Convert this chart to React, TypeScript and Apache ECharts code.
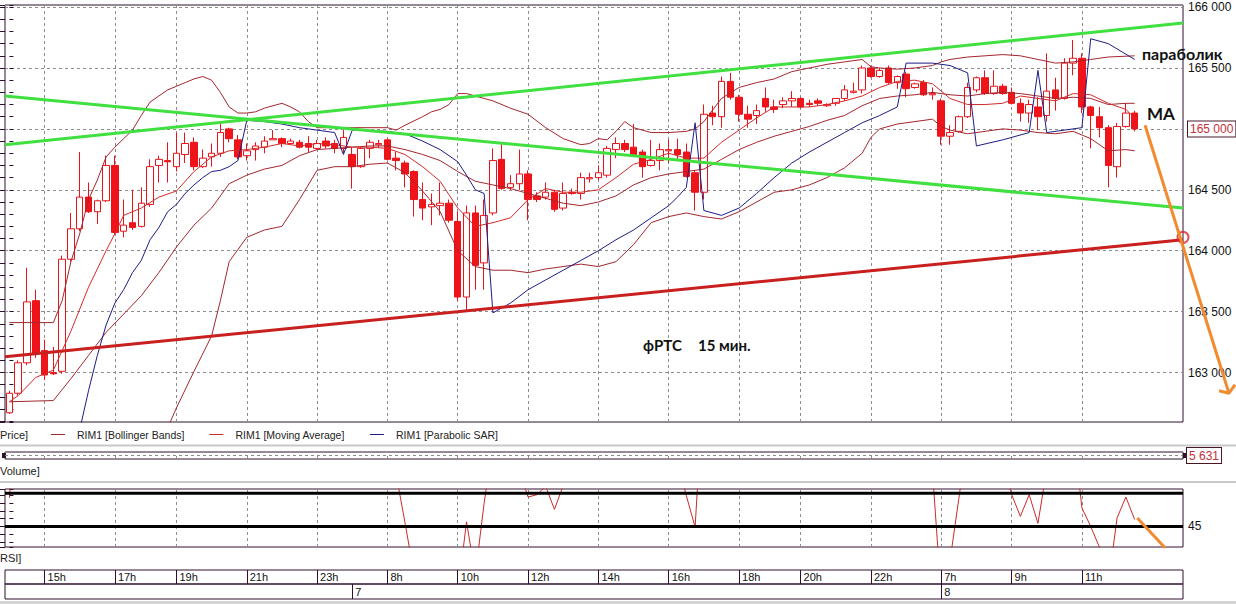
import { useEffect, useRef } from 'react';
import * as echarts from 'echarts';

const FONT = "'Liberation Sans', Arial, sans-serif";
const NOTE_FONT = "Lato, 'Open Sans', 'Noto Sans', sans-serif";
const AX = '#2e0f2e';
const GRIDC = '#8c8c8c';

// ---------- categories (15-minute candles) ----------
const sessions = [
  { day: '6', from: '14:00', to: '23:45' },
  { day: '7', from: '07:00', to: '23:45' },
  { day: '8', from: '07:00', to: '13:45' },
];
const skippedSlots = ['6 18:45', '7 18:45'];
function buildTimes(): string[] {
  const out: string[] = [];
  for (const s of sessions) {
    const [fh, fm] = s.from.split(':').map(Number);
    const [th, tm] = s.to.split(':').map(Number);
    for (let t = fh * 60 + fm; t <= th * 60 + tm; t += 15) {
      const key = `${s.day} ${String(Math.floor(t / 60)).padStart(2, '0')}:${String(t % 60).padStart(2, '0')}`;
      if (!skippedSlots.includes(key)) out.push(key);
    }
  }
  return out;
}
const times = buildTimes();

const gridTimes = ['6 15:00', '6 17:00', '6 19:00', '6 21:00', '6 23:00', '7 08:00', '7 10:00', '7 12:00', '7 14:00', '7 16:00', '7 18:00', '7 20:00', '7 22:00', '8 07:00', '8 09:00', '8 11:00'];
const dayStarts = ['7 07:00', '8 07:00'];

// ---------- candles ----------
const opens = [
  162670, 162830, 163080, 163590, 163180, 163000, 163010, 163930, 164180, 164440,
  164320, 164410, 164700, 164160, 164230, 164200, 164380, 164700, 164740, 164690,
  164790, 164890, 164690, 164770, 164800, 165000, 164910, 164780, 164830, 164850,
  164910, 164920, 164880, 164890, 164880, 164840, 164900, 164880, 164840, 164790,
  164690, 164840, 164870, 164910, 164760, 164720, 164650, 164420, 164360, 164370,
  164390, 164240, 163620, 164310, 163900, 164310, 164750, 164520, 164550, 164630,
  164450, 164440, 164480, 164350, 164480, 164470, 164590, 164600, 164620, 164830,
  164880, 164850, 164810, 164700, 164740, 164820, 164830, 164810, 164640, 164480,
  165130, 165100, 165390, 165260, 165120, 165110, 165250, 165180, 165200, 165230,
  165250, 165210, 165230, 165190, 165210, 165250, 165300, 165320, 165500, 165430,
  165500, 165380, 165450, 165340, 165380, 165280, 165230, 164940, 164980, 165100,
  165320, 165420, 165290, 165350, 165300, 165210, 165130, 165180, 165110, 165320,
  165250, 165540, 165580, 165180, 165100, 165010, 164690, 165020, 165130,
];
const closes = [
  162830, 163080, 163580, 163160, 162980, 162990, 163930, 164180, 164440, 164320,
  164410, 164700, 164150, 164210, 164190, 164390, 164690, 164750, 164730, 164800,
  164880, 164690, 164760, 164800, 164970, 164920, 164770, 164820, 164860, 164900,
  164920, 164880, 164900, 164850, 164850, 164880, 164860, 164840, 164930, 164690,
  164840, 164890, 164880, 164750, 164740, 164630, 164420, 164350, 164380, 164390,
  164250, 163620, 164310, 163880, 164290, 164740, 164510, 164550, 164630, 164420,
  164420, 164480, 164340, 164470, 164470, 164600, 164600, 164640, 164840, 164880,
  164830, 164790, 164690, 164740, 164830, 164830, 164790, 164610, 164480, 165120,
  165100, 165390, 165260, 165120, 165080, 165150, 165180, 165160, 165230, 165250,
  165180, 165200, 165210, 165200, 165250, 165320, 165310, 165500, 165430, 165480,
  165380, 165430, 165330, 165370, 165280, 165290, 164940, 164970, 165100, 165340,
  165420, 165290, 165350, 165290, 165210, 165130, 165200, 165100, 165310, 165250,
  165540, 165580, 165180, 165110, 165010, 164700, 165020, 165130, 165000,
];
const lows = [
  162660, 162810, 163060, 163120, 162940, 162980, 162990, 163910, 164160, 164310,
  164220, 164400, 164130, 164110, 164170, 164190, 164360, 164560, 164560, 164650,
  164720, 164660, 164680, 164690, 164770, 164890, 164750, 164740, 164740, 164800,
  164910, 164850, 164870, 164840, 164810, 164830, 164840, 164800, 164800, 164510,
  164680, 164760, 164850, 164740, 164660, 164520, 164280, 164250, 164210, 164290,
  164230, 163590, 163510, 163680, 163680, 164290, 164500, 164500, 164500, 164250,
  164400, 164420, 164320, 164330, 164460, 164420, 164560, 164580, 164600, 164760,
  164810, 164770, 164600, 164690, 164660, 164720, 164740, 164600, 164330, 164420,
  165030, 165010, 165240, 165060, 165010, 165040, 165140, 165130, 165170, 165180,
  165170, 165180, 165190, 165180, 165190, 165230, 165290, 165290, 165420, 165420,
  165370, 165330, 165260, 165330, 165270, 165240, 164870, 164870, 164970, 165090,
  165300, 165280, 165280, 165280, 165200, 165060, 165050, 164990, 165060, 165150,
  165240, 165440, 165130, 164840, 164930, 164520, 164600, 165010, 164980,
];
const highs = [
  162850, 163100, 163860, 163680, 163270, 163210, 163960, 164310, 164810, 164560,
  164420, 164780, 164780, 164420, 164500, 164520, 164750, 164780, 164890, 164970,
  164970, 164930, 164830, 164880, 165060, 165010, 164950, 164880, 164890, 164940,
  164990, 164930, 164920, 164910, 164940, 164910, 164930, 164910, 164990, 164850,
  164850, 164910, 164910, 164920, 164810, 164740, 164660, 164560, 164470, 164560,
  164420, 164320, 164370, 164370, 164420, 164840, 164880, 164620, 164830, 164660,
  164480, 164560, 164500, 164560, 164510, 164640, 164640, 164700, 164860, 164930,
  164910, 165040, 164830, 164910, 164880, 164910, 164920, 164880, 164660, 165200,
  165190, 165430, 165460, 165280, 165190, 165200, 165340, 165240, 165260, 165310,
  165260, 165240, 165250, 165210, 165250, 165360, 165380, 165520, 165520, 165500,
  165520, 165440, 165470, 165380, 165400, 165340, 165250, 165030, 165110, 165380,
  165430, 165480, 165480, 165370, 165340, 165250, 165240, 165260, 165620, 165420,
  165580, 165730, 165620, 165190, 165180, 165030, 165050, 165210, 165150,
];

// ---------- indicators: [candle index, price] ----------
const bbUpper = [[0, 163410], [5, 163410], [6, 163590], [7, 163910], [8, 164140], [9, 164420], [10, 164580], [11, 164770], [12, 164850], [13, 164920], [14, 164990], [15, 165110], [16, 165220], [17, 165270], [18, 165320], [19, 165350], [20, 165380], [21, 165410], [22, 165430], [23, 165400], [24, 165300], [25, 165180], [26, 165130], [27, 165130], [28, 165140], [29, 165170], [31, 165210], [32, 165180], [33, 165140], [34, 165060], [35, 165010], [43, 165010], [44, 164990], [45, 165030], [47, 165100], [48, 165140], [49, 165160], [50, 165200], [51, 165290], [52, 165290], [53, 165270], [55, 165230], [57, 165170], [59, 165120], [61, 165010], [63, 164920], [65, 164870], [66, 164880], [67, 164920], [68, 164910], [69, 164980], [70, 165060], [71, 165010], [73, 164970], [75, 164970], [77, 164980], [78, 165000], [79, 165060], [81, 165250], [83, 165340], [85, 165380], [87, 165410], [89, 165470], [91, 165500], [93, 165530], [95, 165550], [97, 165570], [98, 165510], [99, 165500], [101, 165490], [103, 165500], [105, 165520], [106, 165550], [107, 165570], [109, 165590], [111, 165600], [113, 165610], [115, 165600], [117, 165570], [119, 165540], [121, 165550], [123, 165570], [125, 165590], [128, 165600]];
const bbMid = [[0, 162760], [5, 162770], [7, 162950], [9, 163140], [11, 163330], [13, 163480], [15, 163630], [17, 163820], [19, 164030], [21, 164210], [23, 164350], [25, 164550], [27, 164620], [29, 164670], [31, 164700], [33, 164780], [35, 164830], [37, 164840], [39, 164850], [41, 164860], [43, 164860], [45, 164830], [47, 164790], [49, 164740], [51, 164650], [53, 164570], [55, 164540], [57, 164510], [59, 164470], [61, 164430], [63, 164390], [65, 164370], [67, 164400], [69, 164450], [71, 164540], [73, 164600], [75, 164630], [77, 164650], [79, 164670], [81, 164750], [83, 164830], [85, 164890], [87, 164940], [89, 164980], [91, 165020], [93, 165070], [95, 165110], [97, 165190], [99, 165250], [101, 165270], [103, 165280], [105, 165300], [107, 165280], [109, 165270], [111, 165290], [113, 165300], [115, 165290], [117, 165270], [119, 165250], [121, 165260], [123, 165250], [125, 165200], [127, 165210], [128, 165210]];
const bbLower = [[0, 162100], [5, 162130], [7, 162000], [9, 161870], [11, 161890], [13, 162030], [15, 162140], [17, 162380], [19, 162710], [21, 163010], [23, 163300], [24, 163590], [25, 163910], [27, 164110], [29, 164170], [31, 164200], [33, 164420], [35, 164660], [37, 164690], [39, 164690], [41, 164710], [43, 164720], [45, 164640], [47, 164490], [49, 164320], [51, 164000], [53, 163870], [55, 163840], [57, 163840], [59, 163820], [61, 163850], [63, 163870], [65, 163890], [67, 163870], [69, 163910], [71, 164050], [73, 164230], [75, 164280], [77, 164310], [79, 164280], [81, 164260], [83, 164320], [85, 164400], [87, 164480], [89, 164500], [91, 164540], [93, 164600], [95, 164680], [97, 164800], [98, 164930], [99, 165000], [101, 165040], [103, 165060], [105, 165080], [106, 165020], [107, 164990], [109, 164960], [111, 164980], [113, 165000], [115, 164990], [117, 164970], [119, 164960], [121, 164980], [123, 164920], [125, 164820], [127, 164830], [128, 164820]];
const movingAvg = [[0, 162760], [1, 162810], [3, 162960], [5, 163020], [7, 163340], [9, 163700], [11, 164000], [12, 164140], [13, 164290], [15, 164350], [17, 164440], [19, 164490], [21, 164650], [23, 164770], [25, 164820], [27, 164830], [29, 164850], [31, 164880], [33, 164860], [35, 164880], [37, 164870], [39, 164850], [41, 164850], [43, 164840], [45, 164790], [47, 164690], [49, 164570], [51, 164350], [53, 164200], [55, 164230], [57, 164270], [59, 164420], [61, 164510], [63, 164480], [65, 164480], [67, 164500], [69, 164600], [71, 164710], [73, 164750], [75, 164800], [77, 164760], [79, 164760], [81, 164890], [83, 164990], [85, 165090], [87, 165180], [89, 165180], [91, 165180], [93, 165200], [95, 165230], [97, 165270], [99, 165340], [101, 165390], [103, 165400], [105, 165370], [107, 165250], [109, 165200], [111, 165200], [113, 165210], [115, 165270], [117, 165250], [119, 165230], [121, 165290], [123, 165280], [125, 165210], [127, 165160], [128, 165090]];
const parabolicSar = [[8, 162530], [9, 162850], [10, 163140], [11, 163390], [12, 163570], [13, 163680], [14, 163820], [15, 163920], [16, 164090], [17, 164190], [18, 164320], [19, 164380], [20, 164470], [21, 164540], [22, 164600], [23, 164650], [24, 164660], [25, 164690], [26, 164740], [27, 165070], [29, 165060], [31, 165040], [33, 165010], [35, 164990], [37, 164970], [38, 164790], [39, 164990], [43, 164980], [45, 164960], [47, 164900], [49, 164830], [51, 164730], [52, 164620], [53, 164500], [54, 164470], [55, 163490], [57, 163570], [59, 163680], [61, 163760], [63, 163840], [65, 163920], [67, 164000], [69, 164090], [71, 164170], [73, 164270], [75, 164370], [76, 164440], [77, 164520], [78, 165050], [79, 164330], [81, 164290], [83, 164350], [85, 164470], [87, 164600], [89, 164720], [91, 164810], [93, 164890], [95, 164970], [97, 165050], [99, 165110], [101, 165180], [102, 165540], [105, 165540], [107, 165520], [109, 165460], [110, 164860], [113, 164910], [116, 164970], [117, 165480], [118, 164970], [122, 165010], [123, 165740], [125, 165700], [128, 165570]];

const rsi = [
  48.7, 62, 70, 62, 58, 58, 68, 71, 74, 70,
  71, 75, 64, 65, 64, 67, 71, 71, 70, 72,
  73, 67, 68, 69, 72, 69, 64, 65, 66, 67,
  68, 66, 67, 65, 65, 66, 65, 64, 67, 58,
  62, 63, 63, 56, 51.7, 45.5, 39, 37, 38, 38.5,
  35, 36.3, 45.6, 38.7, 48, 55.7, 52, 52.5, 52.3, 48.8,
  49.1, 50.2, 47.2, 50.3, 50.5, 52, 52.5, 53, 57, 58,
  56, 55, 52, 53, 55, 55, 53.2, 49, 44.9, 64,
  63, 68, 64, 60, 59, 60, 60.5, 60, 61, 61.5,
  59.5, 60, 60.5, 60, 61, 63, 63, 67, 64, 65,
  61, 62, 59, 60, 57, 52.2, 35.8, 40.6, 48.6, 56.7,
  59, 55, 57, 54, 49.15, 46.3, 49.1, 45.4, 52.4, 51,
  58, 57.8, 47.4, 45.0, 42.3, 37.5, 46.1, 48.8, 45.9,
];
const rsiLevels = [45, 49.3];
const lastVolume = 5631;

// ---------- hand-drawn annotations: [x index, price] ----------
const greenFalling = [[-0.5, 165270], [133.5, 164350]];
const greenRising = [[-0.5, 164870], [133.5, 165870]];
const redSupport = [[-0.5, 163130], [133.5, 164090]];
const touchPoint = [[133.5, 164110]];
const arrowShaft = [[129.18, 165030], [138.73, 162830]];
const arrowHead = [[137.6, 162850], [138.73, 162830], [139.42, 162900]];
const rsiArrow = [[128.3, 46.1], [131.45, 42.25]];

const PRICE_MIN = 162594;
const PRICE_MAX = 166017;
const RSI_MIN = 42.34;
const RSI_MAX = 49.84;
const X_MIN = -0.5;
const X_MAX = times.length - 0.5;

// plot geometry
const PLOT_LEFT = 5;
const PLOT_WIDTH = 1178;
const OVERLAY_WIDTH = 1231; // annotation layer reaches into the price-label margin
const X_MAX_OVERLAY = X_MIN + (OVERLAY_WIDTH * times.length) / PLOT_WIDTH;

const lastClose = closes[closes.length - 1];

const thousands = (n: number) => {
  const s = String(Math.round(n));
  return s.length > 3 ? s.slice(0, -3) + ' ' + s.slice(-3) : s;
};

function buildOption() {
  const gridIdx = gridTimes.map((t) => times.indexOf(t));
  const candleData = opens.map((o, i) => [o, closes[i], lows[i], highs[i]]);
  const boxRich = {
    cur: {
      color: '#c4303a', borderColor: '#4a1626', borderWidth: 1, padding: [2, 2, 1, 2],
      backgroundColor: '#ffffff', fontSize: 12, fontFamily: FONT, lineHeight: 12,
    },
  };
  const vLines = (xi: number, yi: number, ymin: number) => ({
    type: 'line', xAxisIndex: xi, yAxisIndex: yi, data: [[X_MIN, ymin]], symbol: 'none',
    lineStyle: { opacity: 0 }, silent: true, z: 1,
    markLine: {
      silent: true, symbol: 'none', z: 1, animation: false, label: { show: false },
      emphasis: { disabled: true },
      lineStyle: { type: [3, 3], color: GRIDC, width: 1 },
      data: gridIdx.map((i) => ({ xAxis: i })),
    },
  });
  const thinLine = (name: string, data: number[][], color: string) => ({
    type: 'line', name, xAxisIndex: 1, yAxisIndex: 0, data, symbol: 'none', showSymbol: false,
    color, lineStyle: { color, width: 1 }, z: 4, silent: true,
  });
  const BB = 'RIM1 [Bollinger Bands]';
  const MA = 'RIM1 [Moving Average]';
  const SAR = 'RIM1 [Parabolic SAR]';

  return {
    animation: false,
    backgroundColor: '#ffffff',
    textStyle: { fontFamily: FONT },
    legend: {
      data: [BB, MA, SAR], left: 51, top: 429, padding: 0, icon: 'rect', itemWidth: 14, itemHeight: 1,
      itemGap: 25, selectedMode: false,
      textStyle: { color: '#222', fontSize: 10.5, fontFamily: FONT, padding: [0, 0, 0, 7] },
    },
    grid: [
      { left: PLOT_LEFT, top: 5, width: PLOT_WIDTH, height: 417, show: true, borderColor: AX, borderWidth: 1, backgroundColor: '#fff', outerBoundsMode: 'none' },
      { left: PLOT_LEFT, top: 452, width: PLOT_WIDTH, height: 7, show: true, borderColor: AX, borderWidth: 1, outerBoundsMode: 'none' },
      { left: PLOT_LEFT, top: 489, width: PLOT_WIDTH, height: 58, show: true, borderColor: AX, borderWidth: 1, outerBoundsMode: 'none' },
      { left: PLOT_LEFT, top: 570, width: PLOT_WIDTH, height: 14, show: true, borderColor: AX, borderWidth: 1, outerBoundsMode: 'none' },
      { left: PLOT_LEFT, top: 584, width: PLOT_WIDTH, height: 15, show: true, borderColor: AX, borderWidth: 1, outerBoundsMode: 'none' },
      { left: PLOT_LEFT, top: 5, width: OVERLAY_WIDTH, height: 417, show: false, outerBoundsMode: 'none' },
    ],
    xAxis: [
      { gridIndex: 0, type: 'category', data: times, boundaryGap: true, show: false },
      { gridIndex: 0, type: 'value', min: X_MIN, max: X_MAX, show: false },
      { gridIndex: 1, type: 'value', min: X_MIN, max: X_MAX, show: false },
      { gridIndex: 2, type: 'value', min: X_MIN, max: X_MAX, show: false },
      {
        gridIndex: 3, type: 'category', data: times, boundaryGap: true, position: 'bottom',
        axisLine: { show: false }, splitLine: { show: false },
        axisTick: {
          show: true, inside: true, length: 14, alignWithLabel: true,
          interval: (_i: number, v: string) => gridTimes.includes(v), lineStyle: { color: AX },
        },
        axisLabel: {
          show: true, inside: true, margin: 7, align: 'left', verticalAlign: 'middle', padding: [0, 0, 0, 3],
          interval: (_i: number, v: string) => gridTimes.includes(v),
          formatter: (v: string) => parseInt(v.split(' ')[1], 10) + 'h',
          color: '#111', fontSize: 11, fontFamily: FONT,
        },
      },
      {
        gridIndex: 4, type: 'category', data: times, boundaryGap: true, position: 'bottom',
        axisLine: { show: false }, splitLine: { show: false },
        axisTick: {
          show: true, inside: true, length: 15, alignWithLabel: true,
          interval: (_i: number, v: string) => dayStarts.includes(v), lineStyle: { color: AX },
        },
        axisLabel: {
          show: true, inside: true, margin: 7.5, align: 'left', verticalAlign: 'middle', padding: [0, 0, 0, 3],
          interval: (_i: number, v: string) => dayStarts.includes(v),
          formatter: (v: string) => v.split(' ')[0],
          color: '#111', fontSize: 11, fontFamily: FONT,
        },
      },
      { gridIndex: 5, type: 'value', min: X_MIN, max: X_MAX_OVERLAY, show: false },
    ],
    yAxis: [
      {
        gridIndex: 0, type: 'value', position: 'right', min: PRICE_MIN, max: PRICE_MAX, splitNumber: 6,
        axisLine: { show: false },
        axisTick: { show: true, length: 4, lineStyle: { color: AX } },
        minorTick: { show: true, splitNumber: 5, length: 4, lineStyle: { color: AX } },
        minorSplitLine: { show: false },
        axisLabel: {
          margin: 5, color: '#111', fontSize: 12, fontFamily: FONT, rich: boxRich,
          formatter: (v: number) => {
            const r = Math.round(v);
            if (Math.abs(v - r) > 1e-6 || r % 500 !== 0) return '';
            return r === lastClose ? `{cur|${thousands(r)}}` : thousands(r);
          },
        },
        splitLine: { show: true, lineStyle: { type: [3, 3], color: GRIDC, width: 1 } },
      },
      {
        gridIndex: 0, type: 'value', position: 'left', min: PRICE_MIN, max: PRICE_MAX, splitNumber: 6,
        axisLine: { show: false },
        axisTick: { show: true, length: 5, lineStyle: { color: AX } },
        minorTick: { show: true, splitNumber: 5, length: 5, lineStyle: { color: AX } },
        axisLabel: { show: false }, splitLine: { show: false },
      },
      {
        gridIndex: 1, type: 'value', position: 'right', min: 0, max: lastVolume * 2, interval: lastVolume,
        axisLine: { show: false }, axisTick: { show: false },
        axisLabel: {
          margin: 4, rich: boxRich, showMinLabel: false, showMaxLabel: false,
          formatter: (v: number) => (v === lastVolume ? `{cur|${thousands(v)}}` : ''),
        },
        splitLine: { show: true, lineStyle: { type: [3, 3], color: GRIDC, width: 1 } },
      },
      {
        gridIndex: 2, type: 'value', position: 'right', min: RSI_MIN, max: RSI_MAX, splitNumber: 7,
        axisLine: { show: false },
        axisTick: { show: true, length: 4, lineStyle: { color: AX } },
        axisLabel: {
          margin: 5, color: '#111', fontSize: 12, fontFamily: FONT,
          formatter: (v: number) => (Math.abs(v - 45) < 1e-6 ? '45' : ''),
        },
        splitLine: { show: false },
      },
      {
        gridIndex: 2, type: 'value', position: 'left', min: RSI_MIN, max: RSI_MAX, splitNumber: 7,
        axisLine: { show: false },
        axisTick: { show: true, length: 5, lineStyle: { color: AX } },
        axisLabel: { show: false }, splitLine: { show: false },
      },
      { gridIndex: 3, type: 'value', show: false },
      { gridIndex: 4, type: 'value', show: false },
      { gridIndex: 5, type: 'value', min: PRICE_MIN, max: PRICE_MAX, show: false },
    ],
    series: [
      vLines(1, 0, PRICE_MIN),
      vLines(2, 2, 0),
      vLines(3, 3, RSI_MIN),
      {
        type: 'candlestick', xAxisIndex: 0, yAxisIndex: 0, data: candleData, barWidth: 7, z: 3,
        silent: true,
        itemStyle: { color: '#ffffff', color0: '#f0141a', borderColor: '#e8141a', borderColor0: '#e8141a', borderWidth: 1 },
      },
      thinLine(BB, bbUpper, '#a3262e'),
      thinLine(BB, bbMid, '#a3262e'),
      thinLine(BB, bbLower, '#a3262e'),
      thinLine(MA, movingAvg, '#d42a2a'),
      thinLine(SAR, parabolicSar, '#1c1c86'),
      {
        type: 'line', xAxisIndex: 1, yAxisIndex: 0, data: greenFalling, symbol: 'none', silent: true, z: 5,
        lineStyle: { color: '#3fe03f', width: 3 },
      },
      {
        type: 'line', xAxisIndex: 1, yAxisIndex: 0, data: greenRising, symbol: 'none', silent: true, z: 5,
        lineStyle: { color: '#3fe03f', width: 3 },
      },
      {
        type: 'line', xAxisIndex: 1, yAxisIndex: 0, data: redSupport, symbol: 'none', silent: true, z: 5,
        lineStyle: { color: '#c91f1f', width: 3 },
      },
      {
        type: 'scatter', xAxisIndex: 6, yAxisIndex: 7, data: touchPoint, symbol: 'circle', symbolSize: 11,
        silent: true, z: 6,
        itemStyle: { color: 'rgba(255,255,255,0)', borderColor: '#e3202b', borderWidth: 2 },
      },
      {
        type: 'line', xAxisIndex: 6, yAxisIndex: 7, data: arrowShaft, symbol: 'none', silent: true, z: 7,
        lineStyle: { color: '#f28a2e', width: 3 },
      },
      {
        type: 'line', xAxisIndex: 6, yAxisIndex: 7, data: arrowHead, symbol: 'none', silent: true, z: 7,
        lineStyle: { color: '#f28a2e', width: 3 },
      },
      {
        type: 'line', xAxisIndex: 3, yAxisIndex: 3, data: rsi.map((v, i) => [i, v]), symbol: 'none', silent: true, z: 3,
        lineStyle: { color: '#cc2a2a', width: 1 },
      },
      ...rsiLevels.map((lv) => ({
        type: 'line', xAxisIndex: 3, yAxisIndex: 3, data: [[X_MIN, lv], [X_MAX, lv]], symbol: 'none', silent: true, z: 4,
        lineStyle: { color: '#000000', width: 3 },
      })),
      {
        type: 'line', xAxisIndex: 3, yAxisIndex: 3, data: rsiArrow, symbol: 'none', silent: true, clip: false, z: 7,
        lineStyle: { color: '#f28a2e', width: 3 },
      },
    ],
    graphic: [
      { type: 'line', silent: true, shape: { x1: 0, y1: 445.5, x2: 1236, y2: 445.5 }, style: { stroke: '#c8c8c8', lineWidth: 2 } },
      { type: 'line', silent: true, shape: { x1: 0, y1: 482, x2: 1236, y2: 482 }, style: { stroke: '#c8c8c8', lineWidth: 2 } },
      { type: 'rect', silent: true, shape: { x: 0, y: 601, width: 1236, height: 3 }, style: { fill: '#d4d4d4' } },
      { type: 'rect', silent: true, shape: { x: 2, y: 453, width: 4, height: 5 }, style: { fill: AX } },
      { type: 'rect', silent: true, shape: { x: 1183, y: 453, width: 4, height: 5 }, style: { fill: AX } },
      { type: 'text', silent: true, x: 0, y: 435, style: { text: 'Price]', font: `11px ${FONT}`, fill: '#222', verticalAlign: 'middle' } },
      { type: 'text', silent: true, x: 0, y: 471, style: { text: 'Volume]', font: `11px ${FONT}`, fill: '#222', verticalAlign: 'middle' } },
      { type: 'text', silent: true, x: 0, y: 558, style: { text: 'RSI]', font: `11px ${FONT}`, fill: '#222', verticalAlign: 'middle' } },
      { type: 'text', silent: true, x: 1142, y: 53, z: 20, style: { text: 'параболик', font: `bold 16px ${NOTE_FONT}`, fill: '#111', verticalAlign: 'middle' } },
      { type: 'text', silent: true, x: 1147, y: 113.5, z: 20, style: { text: 'MA', font: `bold 17px ${NOTE_FONT}`, fill: '#111', verticalAlign: 'middle' } },
      { type: 'text', silent: true, x: 643, y: 345, z: 20, style: { text: 'фРТС', font: `bold 15px ${NOTE_FONT}`, fill: '#111', verticalAlign: 'middle' } },
      { type: 'text', silent: true, x: 698, y: 345, z: 20, style: { text: '15 мин.', font: `bold 15px ${NOTE_FONT}`, fill: '#111', verticalAlign: 'middle' } },
    ],
  };
}

export default function App() {
  const ref = useRef<HTMLDivElement>(null);
  useEffect(() => {
    if (!ref.current) return;
    const chart = echarts.init(ref.current, undefined, { renderer: 'svg' });
    chart.setOption(buildOption() as any);
    return () => chart.dispose();
  }, []);
  return (
    <div
      ref={ref}
      style={{ position: 'absolute', left: 0, top: 0, width: 1236, height: 604, background: '#ffffff' }}
    />
  );
}
